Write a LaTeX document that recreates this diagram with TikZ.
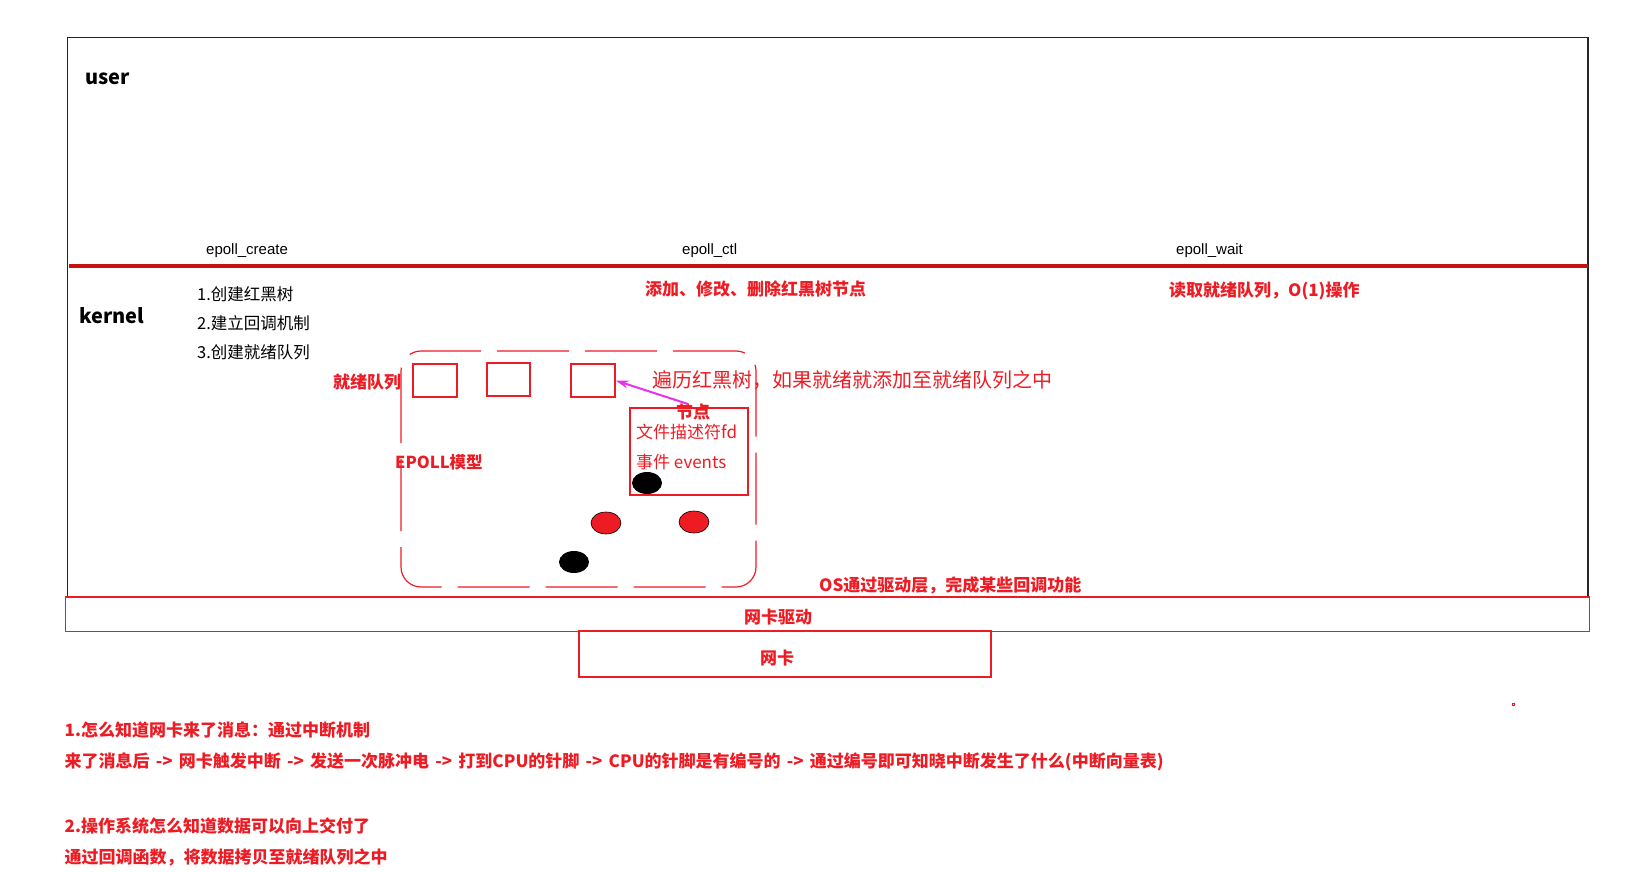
\documentclass[tikz,border=0pt]{standalone}
\usepackage{fontspec}
\setmainfont{Noto Sans CJK SC}
\newfontfamily\arialf{Liberation Sans}
\usetikzlibrary{arrows.meta}
\definecolor{pred}{RGB}{237,28,36}
\definecolor{dred}{RGB}{200,16,16}
\definecolor{mag}{RGB}{232,48,240}
\begin{document}
\begin{tikzpicture}[x=1pt,y=-1pt,
  txt/.style={anchor=west,inner sep=0pt,font=\fontsize{16.5}{18}\selectfont},
  rtxt/.style={anchor=west,inner sep=0pt,text=pred,font=\fontsize{17}{20}\selectfont\bfseries},
  rreg/.style={anchor=west,inner sep=0pt,text=pred,font=\fontsize{17}{20}\selectfont},
  apitxt/.style={anchor=west,inner sep=0pt,font=\arialf\fontsize{15}{18}\selectfont},
  lbl/.style={anchor=west,inner sep=0pt,font=\fontsize{20}{24}\selectfont\bfseries},
  rbox/.style={draw=pred,line width=1.2pt,inner sep=0pt},
  sq/.style={rbox,minimum width=44pt,minimum height=33pt},
  dot/.style={draw=black,line width=0.6pt,x radius=15pt,y radius=11pt}
]
\useasboundingbox (0,0) rectangle (1631,872);
% big user/kernel frame
\draw[line width=1.3pt,black!85] (67.5,37.5) rectangle (1588,597);
\draw[dred,line width=4pt] (69,265.5) -- (1588,265.5);
\node[lbl] (user) at (85,79) {user};
\node[lbl] (kernel) at (79,316) {kernel};
% api names
\node[apitxt] (create) at (206,251) {epoll\_create};
\node[apitxt] (ctl) at (682,251) {epoll\_ctl};
\node[apitxt] (wait) at (1176,251) {epoll\_wait};
% create steps
\node[txt] (s1) at (197,294) {1.创建红黑树};
\node[txt] (s2) at (197,323) {2.建立回调机制};
\node[txt] (s3) at (197,352) {3.创建就绪队列};
\node[rtxt] (ctltxt) at (645,289) {添加、修改、删除红黑树节点};
\node[rtxt] (waittxt) at (1169,291) {读取就绪队列，O(1)操作};
% epoll model
\draw[pred,line width=1.2pt,rounded corners=20pt,dash pattern=on 72pt off 16pt] (401,351) rectangle (756,587);
\node[rtxt] (rq) at (333,382) {就绪队列};
\node[sq] (q1) at (435,380.5) {};
\node[sq,minimum width=43pt] (q2) at (508.5,379.5) {};
\node[sq] (q3) at (593,380.5) {};
\node[rtxt,font=\fontsize{16.5}{20}\selectfont\bfseries] (model) at (395,462) {EPOLL模型};
\node[rbox,minimum width=118pt,minimum height=87pt] (nodebox) at (689,451.5) {};
\node[rreg] (fd) at (636,432) {文件描述符fd};
\node[rreg] (ev) at (636,462) {事件 events};
\node[rtxt,anchor=center] (jd) at (693,412) {节点};
\fill[black] (647,483) ellipse [x radius=15pt,y radius=11pt];
\filldraw[fill=pred,dot] (606,523) ellipse [x radius=15pt,y radius=11pt];
\filldraw[fill=pred,dot] (694,522) ellipse [x radius=15pt,y radius=11pt];
\fill[black] (574,562) ellipse [x radius=15pt,y radius=11pt];
\coordinate (arrS) at (688,404);
\draw[mag,line width=2pt,-{Stealth[length=13pt,width=8pt]}] (arrS) -- (q3.east);
\node[anchor=west,inner sep=0pt,text=pred,font=\fontsize{20}{24}\selectfont] (trav) at (652,380) {遍历红黑树，如果就绪就添加至就绪队列之中};
\node[rtxt] (os) at (819,585) {OS通过驱动层，完成某些回调功能};
% driver and NIC
\node[rbox,minimum width=1524pt,minimum height=34.5pt] (drv) at (827.5,614.25) {};
\node[rtxt,anchor=center] (drvt) at (778,617) {网卡驱动};
\node[rbox,minimum width=412pt,minimum height=46pt] (nic) at (785,654) {};
\node[rtxt,anchor=center] (nict) at (777,658) {网卡};
% notes
\node[rtxt] (n1) at (64.5,730) {1.怎么知道网卡来了消息：通过中断机制};
\node[rtxt] (n2) at (64.5,762) {\spaceskip=6.2pt\relax 来了消息后 -> 网卡触发中断 -> 发送一次脉冲电 -> 打到CPU的针脚 -> CPU的针脚是有编号的 -> 通过编号即可知晓中断发生了什么(中断向量表)};
\node[rtxt] (n3) at (64.5,826) {2.操作系统怎么知道数据可以向上交付了};
\node[rtxt] (n4) at (64.5,857) {通过回调函数，将数据拷贝至就绪队列之中};
\draw[pred,line width=1pt] (1512,703) rectangle (1514.5,705.5);
\end{tikzpicture}
\end{document}
